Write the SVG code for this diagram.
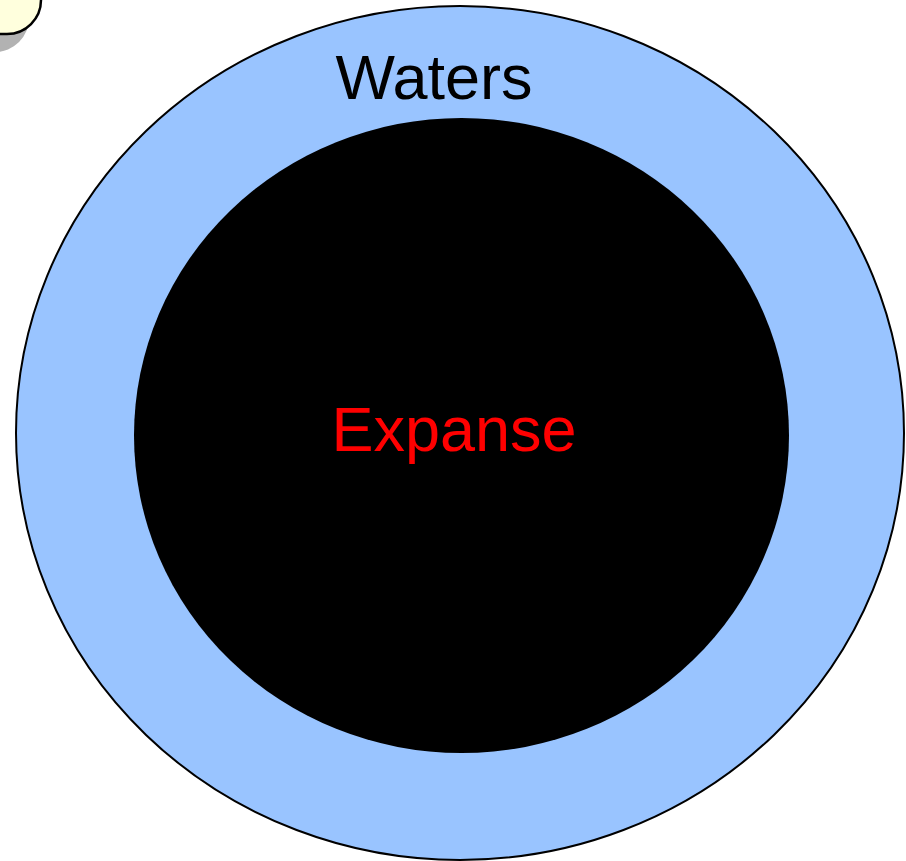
<svg xmlns="http://www.w3.org/2000/svg" width="906" height="861" viewBox="0 0 906 861">
<style>
.lbl{font-family:"Liberation Sans",Arial,sans-serif;font-size:63px;text-anchor:middle}
</style>
<rect width="906" height="861" fill="#fff"/>
<g id="corner">
<rect x="-100" y="-100" width="141" height="134" rx="34" fill="#b2b2b2" transform="translate(-12,18)"/>
<rect x="-100" y="-100" width="141" height="134" rx="34" fill="#ffffdd" stroke="#000" stroke-width="2.5"/>
</g>
<g id="waters">
<ellipse cx="460" cy="433" rx="444" ry="427" fill="#99c4ff" stroke="#000" stroke-width="2"/>
<text class="lbl" x="434" y="99" fill="#000">Waters</text>
</g>
<g id="expanse">
<ellipse cx="461.5" cy="435.5" rx="327.5" ry="317.5" fill="#000"/>
<text class="lbl" x="454" y="451" fill="#ff0000">Expanse</text>
</g>
</svg>
